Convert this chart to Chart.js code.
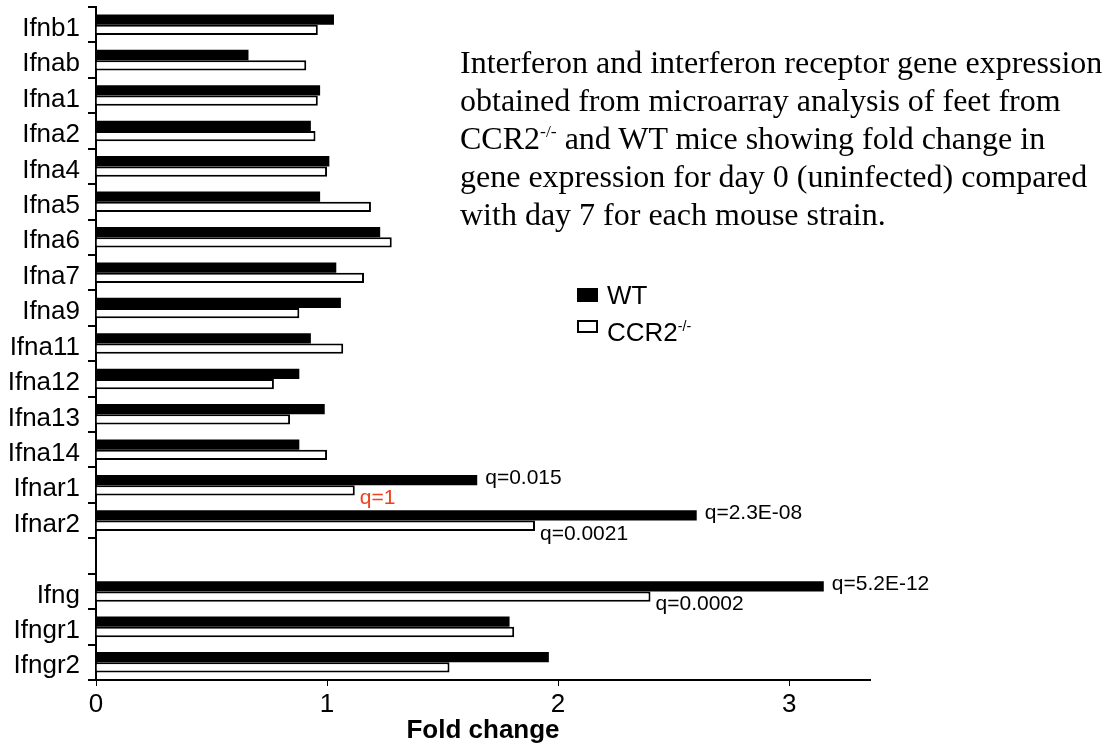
<!DOCTYPE html>
<html>
<head>
<meta charset="utf-8">
<title>Interferon gene expression fold change</title>
<script src="https://cdn.jsdelivr.net/npm/chart.js@4.4.1/dist/chart.umd.min.js"></script>
<style>
    body { margin: 0; background: #fff; }
    #wrap { position: relative; width: 1119px; height: 746px; }
    #caption {
        position: absolute; left: 460px; top: 43px;
        font-family: "Liberation Serif", "Times New Roman", serif;
        font-size: 32px; line-height: 38px; white-space: nowrap; color: #000;
    }
    .sup { font-size: 55%; vertical-align: super; line-height: 0; }
    .legend-row {
        position: absolute; left: 577px; height: 30px;
        font-family: "Liberation Sans", Arial, sans-serif;
        font-size: 26px; line-height: 30px; color: #000; white-space: nowrap;
    }
    .legend-box { position: absolute; left: 0; width: 21px; height: 14px; box-sizing: border-box; }
    .legend-text { position: absolute; left: 30px; top: 0; }
</style>
</head>
<body>
<div id="wrap">
    <canvas id="foldChart" width="1119" height="746"></canvas>
    <div id="caption">
        Interferon and interferon receptor gene expression<br>
        obtained from microarray analysis of feet from<br>
        CCR2<span class="sup">-/-</span> and WT mice showing fold change in<br>
        gene expression for day 0 (uninfected) compared<br>
        with day 7 for each mouse strain.
    </div>
    <div class="legend-row" style="top: 280px;">
        <div class="legend-box" style="top: 8px; background: #000;"></div>
        <div class="legend-text">WT</div>
    </div>
    <div class="legend-row" style="top: 317px;">
        <div class="legend-box" style="top: 3px; background: #fff; border: 2px solid #000; height: 13px;"></div>
        <div class="legend-text">CCR2<span class="sup">-/-</span></div>
    </div>
</div>
<script>
// Gene categories (empty string is the spacer row between receptors and Ifng)
const genes = ['Ifnb1', 'Ifnab', 'Ifna1', 'Ifna2', 'Ifna4', 'Ifna5', 'Ifna6', 'Ifna7', 'Ifna9',
    'Ifna11', 'Ifna12', 'Ifna13', 'Ifna14', 'Ifnar1', 'Ifnar2', '', 'Ifng', 'Ifngr1', 'Ifngr2'];

// Fold change values
const wtFold = [1.03, 0.66, 0.97, 0.93, 1.01, 0.97, 1.23, 1.04, 1.06,
    0.93, 0.88, 0.99, 0.88, 1.65, 2.60, null, 3.15, 1.79, 1.96];
const ccr2Fold = [0.96, 0.91, 0.96, 0.95, 1.00, 1.19, 1.28, 1.16, 0.88,
    1.07, 0.77, 0.84, 1.00, 1.12, 1.90, null, 2.40, 1.81, 1.53];

// X axis ticks and range
const xTicks = [0, 1, 2, 3];
const xMax = 3.35;

// q-value annotations next to bars (series 0 = WT, 1 = CCR2-/-)
const qGene = ['Ifnar1', 'Ifnar1', 'Ifnar2', 'Ifnar2', 'Ifng', 'Ifng'];
const qSeries = [0, 1, 0, 1, 0, 1];
const qText = ['q=0.015', 'q=1', 'q=2.3E-08', 'q=0.0021', 'q=5.2E-12', 'q=0.0002'];
const qSignificant = [true, false, true, true, true, true];

const sansFont = '"Liberation Sans", Arial, sans-serif';

// Draws the q-value labels at the end of the relevant bars
const qLabelPlugin = {
    id: 'qLabels',
    afterDatasetsDraw(chart) {
        const ctx = chart.ctx;
        ctx.save();
        ctx.font = '21px ' + sansFont;
        ctx.textAlign = 'left';
        ctx.textBaseline = 'middle';
        qText.forEach((text, i) => {
            const idx = genes.indexOf(qGene[i]);
            const bar = chart.getDatasetMeta(qSeries[i]).data[idx];
            ctx.fillStyle = qSignificant[i] ? '#000' : '#f0401c';
            if (qSeries[i] === 0) {
                ctx.fillText(text, bar.x + 8, bar.y - 2);  // beside the WT bar
            } else {
                ctx.fillText(text, bar.x + 5, bar.y + 8);  // just below the CCR2 bar end
            }
        });
        ctx.restore();
    }
};

document.addEventListener('DOMContentLoaded', function () {
    var ctx = document.getElementById('foldChart').getContext('2d');

    new Chart(ctx, {
        type: 'bar',
        data: {
            labels: genes,
            datasets: [{
                label: 'WT',
                data: wtFold,
                backgroundColor: '#000',
                borderWidth: 0
            }, {
                label: 'CCR2-/-',
                data: ccr2Fold,
                backgroundColor: '#fff',
                borderColor: '#000',
                borderWidth: 2
            }]
        },
        options: {
            indexAxis: 'y',
            responsive: false,
            animation: false,
            categoryPercentage: 0.58,
            barPercentage: 1.0,
            layout: { padding: { top: 7, right: 249, left: 0, bottom: 0 } },
            plugins: {
                legend: { display: false },
                tooltip: { enabled: false }
            },
            scales: {
                x: {
                    min: 0,
                    max: xMax,
                    afterBuildTicks: function (scale) {
                        scale.ticks = xTicks.map(v => ({ value: v }));
                    },
                    afterFit: function (scale) {
                        scale.height = 66;
                        scale.paddingLeft = 0;
                        scale.paddingRight = 0;
                    },
                    grid: { display: true, drawOnChartArea: false, drawTicks: true, tickLength: 6, color: '#000', lineWidth: 1 },
                    border: { display: true, color: '#000', width: 2 },
                    ticks: { color: '#000', font: { family: sansFont, size: 26 }, padding: 3, maxRotation: 0 },
                    title: {
                        display: true,
                        text: 'Fold change',
                        color: '#000',
                        font: { family: sansFont, size: 26, weight: 'bold' },
                        padding: { top: 0, bottom: 0 }
                    }
                },
                y: {
                    afterFit: function (scale) {
                        scale.width = 96;
                        scale.paddingTop = 0;     // keep label overhang from pushing the plot down
                        scale.paddingBottom = 0;
                    },
                    grid: { display: true, drawOnChartArea: false, drawTicks: true, tickLength: 8, color: '#000', lineWidth: 2, offset: true },
                    border: { display: true, color: '#000', width: 2 },
                    ticks: { color: '#000', font: { family: sansFont, size: 26 }, padding: 8, labelOffset: 4, autoSkip: false }
                }
            }
        },
        plugins: [qLabelPlugin]
    });
});
</script>
</body>
</html>
